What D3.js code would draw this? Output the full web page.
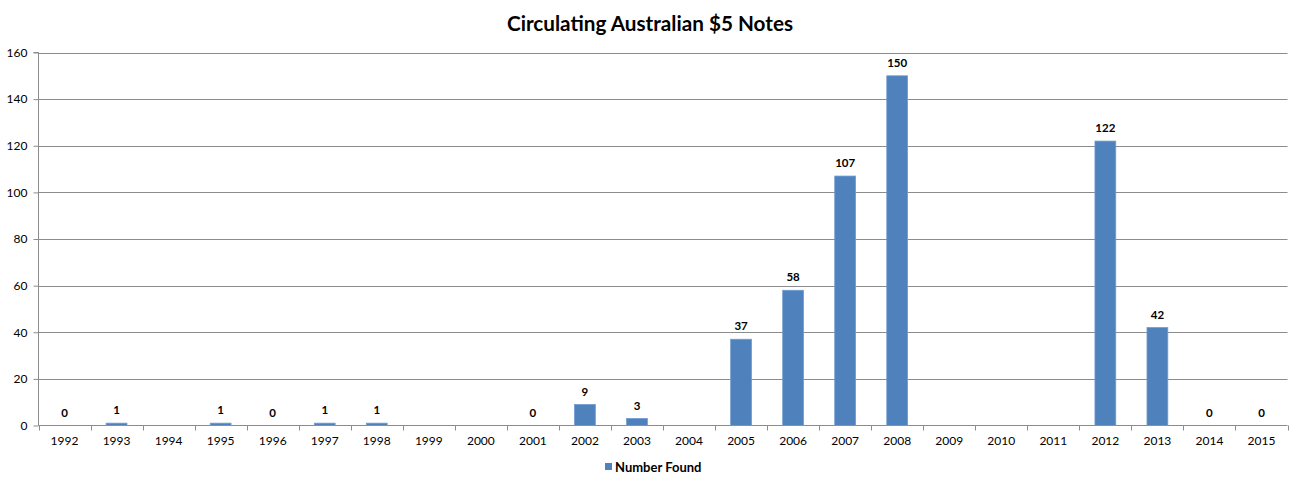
<!DOCTYPE html>
<html><head><meta charset="utf-8">
<script src="https://cdn.jsdelivr.net/npm/d3@7"></script>
<style>body{margin:0;background:#fff}svg{display:block;font-family:Lato,"Open Sans",sans-serif}</style>
</head><body><svg id="c" width="1301" height="488"></svg>
<script>
const categories = ["1992","1993","1994","1995","1996","1997","1998","1999","2000","2001","2002","2003","2004","2005","2006","2007","2008","2009","2010","2011","2012","2013","2014","2015"];
const values = [0,1,null,1,0,1,1,null,null,0,9,3,null,37,58,107,150,null,null,null,122,42,0,0];
const yTicks = [0,20,40,60,80,100,120,140,160];
const seriesName = "Number Found";
const title = "Circulating Australian $5 Notes";

const svg = d3.select("#c");
const L = 38.5, R = 1287.5, T = 52.5, B = 425.5;
const x = d3.scaleBand().domain(categories).range([L, R]).paddingInner(0).paddingOuter(0);
const y = d3.scaleLinear().domain([0,160]).range([B, T]);
const col = "#4F81BD";

svg.append("text").attr("x", 650).attr("y", 31).attr("text-anchor","middle")
  .attr("font-size", 20.7).attr("font-weight","bold").attr("fill","#000").text(title);

// grid
svg.append("g").selectAll("line").data(yTicks.filter(d=>d>0)).join("line")
  .attr("x1", L).attr("x2", R).attr("y1", d=>Math.round(y(d))+0.5).attr("y2", d=>Math.round(y(d))+0.5)
  .attr("stroke","#8c8c8c").attr("stroke-width",1);

// y axis
const ya = svg.append("g").attr("transform",`translate(${L},0)`)
  .call(d3.axisLeft(y).tickValues(yTicks).tickSize(5).tickPadding(6));
ya.select(".domain").attr("stroke","#8c8c8c").attr("d", `M-5,${T}H0V${B}`);
ya.selectAll(".tick line").attr("stroke","#8c8c8c");
ya.selectAll("text").attr("font-size",12).attr("fill","#000").attr("font-family","Lato,sans-serif");

// x axis
const xa = svg.append("g").attr("transform",`translate(0,${B})`)
  .call(d3.axisBottom(x).tickSize(0).tickPadding(11));
xa.select(".domain").attr("stroke","#8c8c8c").attr("d", `M${L},0H${R}`);
xa.selectAll("text").attr("font-size",12).attr("fill","#000").attr("font-family","Lato,sans-serif");
svg.append("g").selectAll("line").data(categories.concat(["end"])).join("line")
  .attr("x1",(d,i)=>Math.round(L + i*x.step())+0.5).attr("x2",(d,i)=>Math.round(L + i*x.step())+0.5)
  .attr("y1",B).attr("y2",B+5).attr("stroke","#8c8c8c");

// bars
const bw = x.bandwidth()*0.4;
const data = categories.map((c,i)=>({c, v: values[i]})).filter(d=>d.v!==null);
svg.append("g").selectAll("rect").data(data.filter(d=>d.v>0)).join("rect")
  .attr("x", d=>x(d.c)+(x.bandwidth()-bw)/2).attr("width", bw)
  .attr("y", d=>y(d.v)).attr("height", d=>B - y(d.v))
  .attr("fill", col).attr("stroke","#6f9bd0").attr("stroke-width",0.8);

// labels
svg.append("g").selectAll("text").data(data).join("text")
  .attr("x", d=>x(d.c)+x.bandwidth()/2).attr("y", d=>y(d.v)-9)
  .attr("text-anchor","middle").attr("font-size",11.5).attr("font-weight","bold").attr("fill","#000")
  .text(d=>d.v);

// legend
svg.append("rect").attr("x",605).attr("y",463).attr("width",7).attr("height",7).attr("fill",col);
svg.append("text").attr("x",615).attr("y",472).attr("font-size",13).attr("font-weight","bold").attr("fill","#000").text(seriesName);
</script></body></html>
